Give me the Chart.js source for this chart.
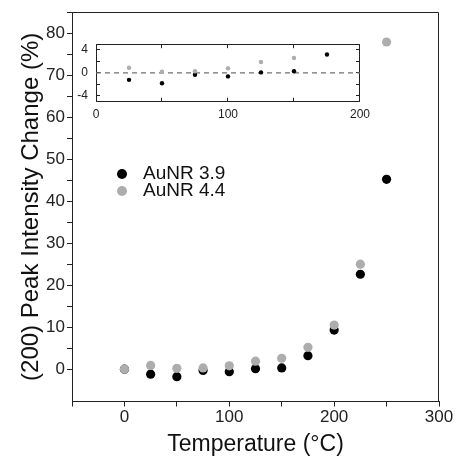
<!DOCTYPE html>
<html>
<head>
<meta charset="utf-8">
<script src="https://cdn.jsdelivr.net/npm/chart.js@4.4.0/dist/chart.umd.min.js"></script>
<style>
  html, body { margin: 0; padding: 0; background: #fff; }
  #wrap { position: relative; width: 461px; height: 459px; }
  #mainChart { position: absolute; left: 0; top: 0; }
  #insetChart { position: absolute; left: 70px; top: 25px; }
</style>
</head>
<body>
<div id="wrap">
  <canvas id="mainChart" width="461" height="459"></canvas>
  <canvas id="insetChart" width="310" height="100"></canvas>
</div>
<script>
// data
const temperatures = [0, 25, 50, 75, 100, 125, 150, 175, 200, 225, 250]; // °C
const auNR39 = [0, -1.2, -1.8, -0.3, -0.6, 0.1, 0.3, 3.2, 9.3, 22.6, 45.2]; // %
const auNR44 = [0, 0.9, 0.2, 0.3, 0.8, 1.9, 2.6, 5.2, 10.5, 25.0, 77.9]; // %
const seriesNames = ['AuNR 3.9', 'AuNR 4.4'];
const seriesColors = ['#000000', '#adadad'];

// tick labels
const mainXLabels = [0, 100, 200, 300];
const mainYLabels = [0, 10, 20, 30, 40, 50, 60, 70, 80];
const insetXLabels = [0, 100, 200];
const insetYLabels = [-4, 0, 4];
const insetXRange = [0, 200];
const insetYRange = [-5, 5];

const FONT = "'Liberation Sans', Arial, sans-serif";
Chart.defaults.font.family = FONT;
Chart.defaults.color = '#222';

// {x, y} pairs for a series
function points(values) {
    return temperatures.map((t, i) => ({ x: t, y: values[i] }));
}
// inset only shows what falls inside its window
function insetPoints(values) {
    return points(values).filter(p => p.x > insetXRange[0] && p.x <= insetXRange[1] && p.y > insetYRange[0] && p.y < insetYRange[1]);
}
function labelIf(list) {
    return v => list.includes(v) ? String(v) : '';
}
// keep only ticks on a multiple of step
function keepEvery(step) {
    return s => { s.ticks = s.ticks.filter(t => Math.abs(t.value % step) < 1e-9); };
}

// top + right edge of the main frame
const framePlugin = {
    id: 'frame',
    afterDraw(chart) {
        const { ctx, chartArea: a } = chart;
        const top = Math.round(a.top) + 0.5;
        const right = Math.round(a.right) - 0.5;
        ctx.save();
        ctx.strokeStyle = '#222';
        ctx.lineWidth = 1;
        ctx.beginPath();
        ctx.moveTo(a.left, top);
        ctx.lineTo(right, top);
        ctx.lineTo(right, a.bottom);
        ctx.stroke();
        ctx.restore();
    }
};

// legend inside the plot, markers + names
const pointLegend = {
    id: 'pointLegend',
    afterDraw(chart) {
        const ctx = chart.ctx;
        ctx.save();
        ctx.font = `19px ${FONT}`;
        ctx.textBaseline = 'middle';
        chart.data.datasets.forEach((ds, i) => {
            const y = 174 + i * 17;
            ctx.beginPath();
            ctx.arc(122, y, 5, 0, Math.PI * 2);
            ctx.fillStyle = ds.backgroundColor;
            ctx.fill();
            ctx.fillStyle = '#111';
            ctx.fillText(ds.label, 143, y);
        });
        ctx.restore();
    }
};

// main chart
new Chart(document.getElementById('mainChart'), {
    type: 'scatter',
    data: {
        datasets: [
            { label: seriesNames[0], data: points(auNR39), backgroundColor: seriesColors[0], borderWidth: 0, pointRadius: 4.6, order: 1 },
            { label: seriesNames[1], data: points(auNR44), backgroundColor: seriesColors[1], borderWidth: 0, pointRadius: 4.6, order: 0 }
        ]
    },
    options: {
        responsive: false,
        animation: false,
        events: [],
        layout: { padding: { top: 12, right: 22, left: 0, bottom: 0 } },
        plugins: { legend: { display: false }, tooltip: { enabled: false } },
        scales: {
            x: {
                type: 'linear', min: -50, max: 300,
                ticks: { stepSize: 50, autoSkip: false, maxRotation: 0, font: { size: 17 }, padding: 1, color: '#222', callback: labelIf(mainXLabels) },
                grid: { drawOnChartArea: false, tickLength: 5, tickColor: '#222' },
                border: { color: '#222', width: 1 },
                title: { display: true, text: 'Temperature (°C)', font: { size: 23 }, color: '#111', padding: { top: 0, bottom: 1 } },
                afterFit: s => { s.height = 57.5; }
            },
            y: {
                type: 'linear', min: -7.7, max: 85,
                ticks: { stepSize: 5, autoSkip: false, font: { size: 17 }, padding: 2, color: '#222', callback: labelIf(mainYLabels) },
                afterBuildTicks: keepEvery(5),
                grid: { drawOnChartArea: false, tickLength: 5, tickColor: '#222' },
                border: { color: '#222', width: 1 },
                title: { display: true, text: '(200) Peak Intensity Change (%)', font: { size: 24 }, color: '#111', padding: { top: 17, bottom: 0 } },
                afterFit: s => { s.width = 72; }
            }
        }
    },
    plugins: [framePlugin, pointLegend]
});

// inset: ticks point inward on all four sides
const insetGrid = { drawOnChartArea: false, tickLength: -4, tickColor: '#222' };
const insetBorder = { color: '#222', width: 1 };

new Chart(document.getElementById('insetChart'), {
    type: 'scatter',
    data: {
        datasets: [
            { label: 'zero', type: 'line', data: insetXRange.map(x => ({ x: x, y: 0 })), borderColor: '#707070', borderWidth: 1.3, borderDash: [5, 4], pointRadius: 0, order: 2 },
            { label: seriesNames[0], data: insetPoints(auNR39), backgroundColor: seriesColors[0], borderWidth: 0, pointRadius: 2.2, order: 1 },
            { label: seriesNames[1], data: insetPoints(auNR44), backgroundColor: seriesColors[1], borderWidth: 0, pointRadius: 2.2, order: 0 }
        ]
    },
    options: {
        responsive: false,
        animation: false,
        events: [],
        layout: { padding: { top: 10, right: 11, left: 0, bottom: 0 } },
        plugins: { legend: { display: false }, tooltip: { enabled: false } },
        scales: {
            x: {
                type: 'linear', min: insetXRange[0], max: insetXRange[1],
                ticks: { stepSize: 50, autoSkip: false, maxRotation: 0, font: { size: 12 }, padding: 10, color: '#222', callback: labelIf(insetXLabels) },
                grid: insetGrid, border: insetBorder,
                afterFit: s => { s.height = 23.3; }
            },
            x2: {
                type: 'linear', position: 'top', min: insetXRange[0], max: insetXRange[1],
                ticks: { stepSize: 50, display: false },
                grid: insetGrid, border: insetBorder,
                afterFit: s => { s.height = 0; }
            },
            y: {
                type: 'linear', min: insetYRange[0], max: insetYRange[1],
                ticks: { stepSize: 1, autoSkip: false, font: { size: 12 }, padding: 12, color: '#222', callback: labelIf(insetYLabels) },
                afterBuildTicks: keepEvery(2),
                grid: insetGrid, border: insetBorder,
                afterFit: s => { s.width = 26; }
            },
            y2: {
                type: 'linear', position: 'right', min: insetYRange[0], max: insetYRange[1],
                ticks: { stepSize: 1, display: false },
                afterBuildTicks: keepEvery(2),
                grid: insetGrid, border: insetBorder,
                afterFit: s => { s.width = 0; }
            }
        }
    }
});
</script>
</body>
</html>
